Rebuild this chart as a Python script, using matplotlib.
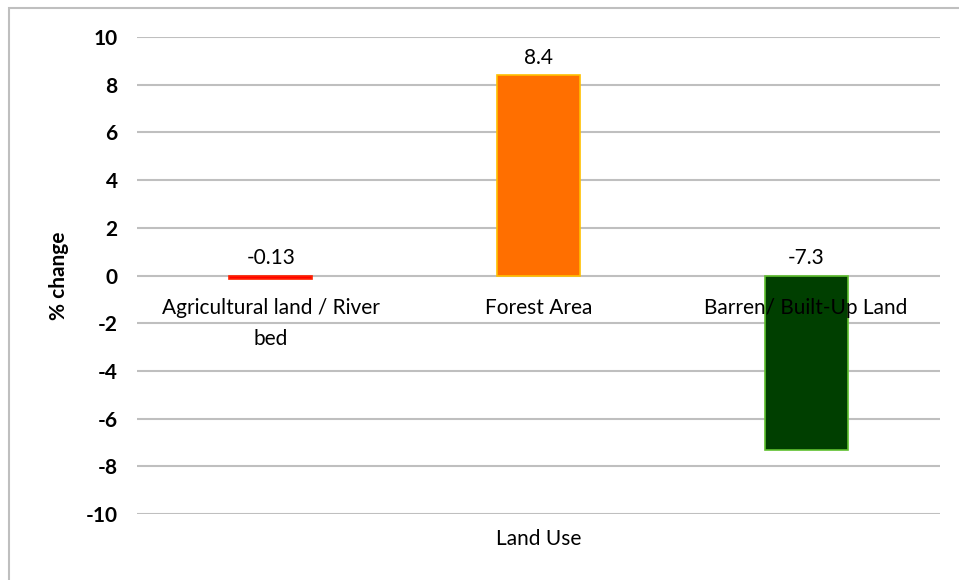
import matplotlib
matplotlib.use("Agg")
import matplotlib.pyplot as plt
from matplotlib.patches import Rectangle

plt.rcParams['font.family'] = ['Lato', 'DejaVu Sans']
plt.rcParams['axes.unicode_minus'] = False

categories = ["Agricultural land / River\nbed", "Forest Area", "Barren/ Built-Up Land"]
values = [-0.13, 8.4, -7.3]
labels = ["-0.13", "8.4", "-7.3"]
fills = ["#FF0000", "#FF6F00", "#003F00"]
edges = ["#FF2000", "#FFC000", "#5FC02F"]
yticks = [-10, -8, -6, -4, -2, 0, 2, 4, 6, 8, 10]

fig = plt.figure(figsize=(9.59, 5.8), dpi=100)
ax = fig.add_axes([0.143, 0.114, 0.837, 0.822])

# outer chart frame
fig.patches.append(Rectangle((9 / 959, -0.1), 1.2, 1.1 - 8 / 580,
                             transform=fig.transFigure, fill=False,
                             edgecolor="#BFBFBF", lw=1.5))

x = range(len(categories))
ax.bar(x, values, width=0.31, color=fills, edgecolor=edges, linewidth=1.2, zorder=3)

for i, v in enumerate(values):
    ax.text(i, max(v, 0) + 0.3, labels[i], ha="center", va="bottom",
            fontsize=15, color="black", zorder=5)
    ax.text(i, -0.95, categories[i], ha="center", va="top", fontsize=15,
            color="black", linespacing=1.65, zorder=5)

ax.set_xlim(-0.5, 2.5)
ax.set_ylim(-10, 10)
ax.set_yticks(yticks)
ax.set_xticks([])
ax.yaxis.grid(True, color="#BFBFBF", lw=1.5, zorder=0)
ax.set_axisbelow(True)
ax.tick_params(axis="y", length=0, pad=14, labelsize=15, labelcolor="black")
for t in ax.get_yticklabels():
    t.set_fontweight("bold")
for s in ax.spines.values():
    s.set_visible(False)

ax.set_ylabel("% change", fontsize=15, fontweight="bold", labelpad=12)
ax.set_xlabel("Land Use", fontsize=15, labelpad=11, color="black")

fig.savefig("out.png", dpi=100)
